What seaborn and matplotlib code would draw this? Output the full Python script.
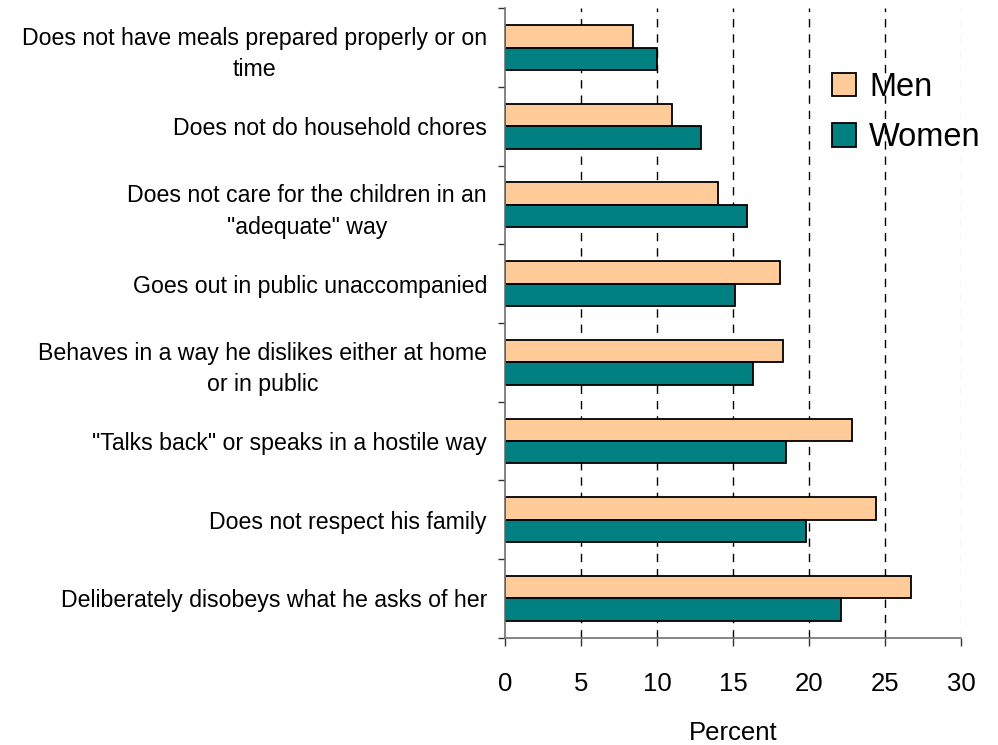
import matplotlib
matplotlib.use("Agg")
import matplotlib.pyplot as plt
import seaborn as sns
import pandas as pd
import numpy as np

reasons = [
    "Does not have meals prepared properly or on\ntime",
    "Does not do household chores",
    "Does not care for the children in an\n\"adequate\" way",
    "Goes out in public unaccompanied",
    "Behaves in a way he dislikes either at home\nor in public",
    "\"Talks back\" or speaks in a hostile way",
    "Does not respect his family",
    "Deliberately disobeys what he asks of her",
]
men = [8.4, 11.0, 14.0, 18.1, 18.3, 22.8, 24.4, 26.7]
women = [10.0, 12.9, 15.9, 15.1, 16.3, 18.5, 19.8, 22.1]
groups = ["Men", "Women"]
palette = {"Men": "#FFCC99", "Women": "#008080"}
x_ticks = [0, 5, 10, 15, 20, 25, 30]

df = pd.DataFrame({
    "reason": reasons * 2,
    "percent": men + women,
    "group": ["Men"] * len(reasons) + ["Women"] * len(reasons),
})

sns.set_theme(style="white")
plt.rcParams["font.family"] = ["Liberation Sans", "DejaVu Sans"]
plt.rcParams["text.color"] = "black"
plt.rcParams["xtick.color"] = "black"
plt.rcParams["ytick.color"] = "black"
plt.rcParams["axes.labelcolor"] = "black"

fig = plt.figure(figsize=(9.98, 7.45), dpi=100)
ax = fig.add_axes([0.506, 0.144, 0.457, 0.845])

sns.barplot(data=df, x="percent", y="reason", hue="group", order=reasons,
            hue_order=groups, palette=palette, width=0.57, gap=0,
            edgecolor="black", linewidth=1.3, saturation=1, ax=ax,
            legend=True)

ax.set_xlim(0, 30)
ax.set_ylim(len(reasons) - 0.5, -0.5)
ax.set_xticks(x_ticks)
ax.set_xticklabels([str(t) for t in x_ticks], fontsize=18.5)
ax.tick_params(axis="x", direction="out", length=6, width=1, color="#333333",
               pad=19, bottom=True)

# category boundaries carry the tick marks, centres carry the labels
ax.set_yticks(np.arange(-0.5, len(reasons)), labels=[])
ax.set_yticks(np.arange(len(reasons)), labels=reasons, minor=True)
ax.tick_params(axis="y", which="major", direction="out", length=5, width=1,
               color="#333333", left=True)
ax.tick_params(axis="y", which="minor", length=0, pad=13, labelsize=16.7)
for lab in ax.get_yticklabels(minor=True):
    lab.set_multialignment("center")
    lab.set_linespacing(1.45)

ax.set_ylabel("")
ax.set_xlabel("Percent", fontsize=18.5, labelpad=17.5)

for side in ["top", "right"]:
    ax.spines[side].set_visible(False)
for side in ["left", "bottom"]:
    ax.spines[side].set_color("#707070")
    ax.spines[side].set_linewidth(1.2)

# dashed vertical grid
for t in x_ticks[1:]:
    ax.axvline(t, color="#000000" if t < 30 else "#d8d8d8", lw=1,
               ls=(0, (6, 5)), zorder=0)
ax.set_axisbelow(True)

handles, labels = ax.get_legend_handles_labels()
ax.legend(handles, labels, loc="upper left", bbox_to_anchor=(0.821, 0.921),
          bbox_transform=fig.transFigure, frameon=False, fontsize=23.5,
          handlelength=0.72, handleheight=0.72, handletextpad=0.4,
          labelspacing=0.6, borderaxespad=0)

fig.savefig("out.png", dpi=100)
